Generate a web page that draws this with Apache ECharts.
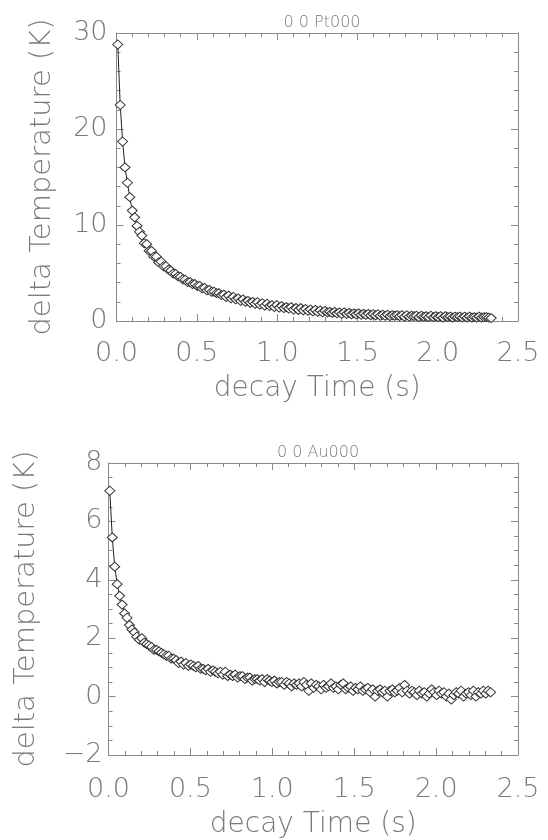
<!DOCTYPE html>
<html>
<head>
<meta charset="utf-8">
<script src="https://cdn.jsdelivr.net/npm/echarts@6/dist/echarts.min.js"></script>
<style>
html,body{margin:0;padding:0;background:#fff;}
#c{width:548px;height:840px;}
</style>
</head>
<body>
<div id="c"></div>
<script>
// Sampling times (s), shared by both runs
const times = [
0.008,0.023,0.038,0.053,0.068,0.083,0.098,0.113,0.128,0.143,
0.158,0.173,0.188,0.203,0.218,0.233,0.248,0.263,0.278,0.293,
0.308,0.323,0.338,0.353,0.368,0.383,0.398,0.413,0.428,0.443,
0.458,0.473,0.488,0.503,0.518,0.533,0.548,0.563,0.578,0.593,
0.608,0.623,0.638,0.653,0.668,0.683,0.698,0.713,0.728,0.743,
0.758,0.773,0.788,0.803,0.818,0.833,0.848,0.863,0.878,0.893,
0.908,0.923,0.938,0.953,0.968,0.983,0.998,1.013,1.028,1.043,
1.058,1.073,1.088,1.103,1.118,1.133,1.148,1.163,1.178,1.193,
1.208,1.223,1.238,1.253,1.268,1.283,1.298,1.313,1.328,1.343,
1.358,1.373,1.388,1.403,1.418,1.433,1.448,1.463,1.478,1.493,
1.508,1.523,1.538,1.553,1.568,1.583,1.598,1.613,1.628,1.643,
1.658,1.673,1.688,1.703,1.718,1.733,1.748,1.763,1.778,1.793,
1.808,1.823,1.838,1.853,1.868,1.883,1.898,1.913,1.928,1.943,
1.958,1.973,1.988,2.003,2.018,2.033,2.048,2.063,2.078,2.093,
2.108,2.123,2.138,2.153,2.168,2.183,2.198,2.213,2.228,2.243,
2.258,2.273,2.288,2.303,2.318,2.333
];
// delta Temperature (K), Pt000
const ptValues = [
28.8,22.5,18.7,16.0,14.4,12.9,11.5,10.8,9.9,9.3,
8.9,8.1,8.0,7.3,7.3,6.7,6.7,6.1,6.2,5.7,
5.7,5.35,5.25,4.95,4.9,4.65,4.6,4.35,4.3,4.05,
4.05,3.85,3.85,3.65,3.65,3.4,3.45,3.2,3.25,3.05,
3.05,2.9,2.9,2.7,2.75,2.5,2.65,2.35,2.5,2.25,
2.35,2.1,2.25,2.0,2.1,1.9,2.0,1.8,1.95,1.7,
1.85,1.6,1.8,1.55,1.65,1.45,1.65,1.4,1.55,1.35,
1.45,1.3,1.45,1.2,1.35,1.15,1.35,1.1,1.25,1.05,
1.2,1.0,1.15,0.95,1.1,0.9,1.05,0.9,0.95,0.85,
0.95,0.8,0.9,0.75,0.9,0.75,0.85,0.7,0.8,0.7,
0.8,0.65,0.75,0.65,0.75,0.6,0.7,0.6,0.7,0.55,
0.65,0.55,0.65,0.5,0.6,0.55,0.6,0.5,0.6,0.45,
0.6,0.45,0.55,0.5,0.55,0.4,0.55,0.45,0.5,0.4,
0.55,0.4,0.5,0.4,0.5,0.35,0.5,0.4,0.45,0.35,
0.45,0.4,0.45,0.35,0.45,0.35,0.45,0.35,0.4,0.35,
0.45,0.35,0.4,0.4,0.35,0.3
];
// delta Temperature (K), Au000
const auValues = [
7.05,5.45,4.45,3.85,3.45,3.15,2.85,2.7,2.45,2.3,
2.2,2.05,1.95,2.0,1.85,1.8,1.75,1.7,1.6,1.6,
1.55,1.5,1.45,1.4,1.4,1.3,1.3,1.25,1.15,1.2,
1.1,1.15,1.05,1.1,1.05,1.0,1.05,0.95,0.95,0.9,
0.95,0.85,0.9,0.85,0.8,0.85,0.75,0.85,0.7,0.75,
0.7,0.75,0.65,0.7,0.7,0.6,0.65,0.65,0.55,0.6,
0.6,0.55,0.6,0.5,0.6,0.55,0.5,0.55,0.45,0.5,
0.5,0.4,0.5,0.45,0.35,0.45,0.4,0.45,0.35,0.5,
0.4,0.2,0.45,0.3,0.4,0.35,0.25,0.4,0.3,0.35,
0.45,0.3,0.35,0.25,0.4,0.45,0.25,0.3,0.35,0.2,
0.3,0.25,0.35,0.2,0.25,0.3,0.15,0.25,0.0,0.2,
0.25,0.15,0.2,0.0,0.2,0.25,0.15,0.2,0.3,0.15,
0.4,0.2,0.1,0.2,0.15,0.05,0.2,0.1,0.15,0.0,
0.1,0.25,0.15,0.05,0.2,0.1,0.15,0.0,0.1,-0.1,
0.05,0.15,0.1,0.2,0.0,0.1,0.15,0.05,0.2,0.0,
0.15,0.1,0.2,0.1,0.2,0.15
];
const titles = ['0 0 Pt000', '0 0 Au000'];
const xName = 'decay Time (s)';
const yName = 'delta Temperature (K)';
const xRange = [0, 2.5, 0.5];
const yRangePt = [0, 30, 10];
const yRangeAu = [-2, 8, 2];

const FONT = 'DejaVu Sans';
const TXT = '#7a7a7a';
const AX = '#8a8a8a';

function pairs(xs, ys) { return xs.map((x, i) => [x, ys[i]]); }

function xAxis(grid, pos, labels, margin, gap) {
  return {
    type: 'value', gridIndex: grid, position: pos,
    min: xRange[0], max: xRange[1], interval: xRange[2],
    name: labels ? xName : '', nameLocation: 'middle', nameGap: gap,
    nameTextStyle: {fontFamily: FONT, fontSize: 28, color: TXT, fontWeight: 200},
    axisLine: {show: true, onZero: false, lineStyle: {color: AX, width: 1}},
    axisTick: {show: true, inside: true, length: 7, lineStyle: {color: AX}},
    minorTick: {show: true, splitNumber: 5, length: 4, lineStyle: {color: AX}},
    splitLine: {show: false},
    axisLabel: {show: labels, margin: margin, fontFamily: FONT, fontSize: 27, color: TXT, fontWeight: 200,
      formatter: v => v.toFixed(1)}
  };
}
function yAxis(grid, pos, labels, r, minorN, margin, gap) {
  return {
    type: 'value', gridIndex: grid, position: pos,
    min: r[0], max: r[1], interval: r[2],
    name: labels ? yName : '', nameLocation: 'middle', nameGap: gap,
    nameTextStyle: {fontFamily: FONT, fontSize: 29, color: TXT, fontWeight: 200},
    axisLine: {show: true, onZero: false, lineStyle: {color: AX, width: 1}},
    axisTick: {show: true, inside: true, length: 7, lineStyle: {color: AX}},
    minorTick: {show: true, splitNumber: minorN, length: 4, lineStyle: {color: AX}},
    splitLine: {show: false},
    axisLabel: {show: labels, margin: margin, fontFamily: FONT, fontSize: 27, color: TXT, fontWeight: 200,
      formatter: v => String(v).replace('-', '\u2212')}
  };
}
function series(xi, yi, data) {
  return {
    type: 'line', xAxisIndex: xi, yAxisIndex: yi, data: data,
    symbol: 'diamond', symbolSize: [10, 9], showSymbol: true,
    lineStyle: {color: '#222', width: 1},
    itemStyle: {color: '#fff', borderColor: '#333', borderWidth: 1},
    animation: false
  };
}

const chart = echarts.init(document.getElementById('c'), null, {renderer: 'canvas'});
chart.setOption({
  backgroundColor: '#fff',
  animation: false,
  title: [
    {text: titles[0], left: 317, top: 10, textAlign: 'center',
      textStyle: {fontFamily: FONT, fontSize: 16, fontWeight: 200, color: TXT}},
    {text: titles[1], left: 313, top: 440, textAlign: 'center',
      textStyle: {fontFamily: FONT, fontSize: 16, fontWeight: 200, color: TXT}}
  ],
  grid: [
    {left: 116.5, right: 30, top: 33, height: 288, containLabel: false},
    {left: 108.5, right: 30, top: 463, height: 292, containLabel: false}
  ],
  xAxis: [
    xAxis(0, 'bottom', true, 19, 54),
    xAxis(0, 'top', false, 8, 0),
    xAxis(1, 'bottom', true, 21, 56),
    xAxis(1, 'top', false, 8, 0)
  ],
  yAxis: [
    yAxis(0, 'left', true, yRangePt, 5, 9, 60),
    yAxis(0, 'right', false, yRangePt, 5, 8, 0),
    yAxis(1, 'left', true, yRangeAu, 4, 6, 68),
    yAxis(1, 'right', false, yRangeAu, 4, 8, 0)
  ],
  series: [
    series(0, 0, pairs(times, ptValues)),
    series(2, 2, pairs(times, auValues))
  ]
});
</script>
</body>
</html>
